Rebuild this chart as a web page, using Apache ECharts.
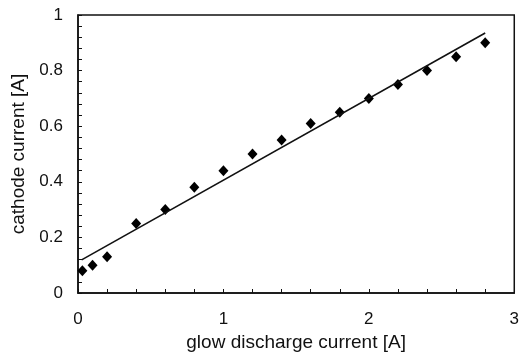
<!DOCTYPE html>
<html>
<head>
<meta charset="utf-8">
<script src="https://cdn.jsdelivr.net/npm/echarts@6/dist/echarts.min.js"></script>
<style>
  html, body { margin: 0; padding: 0; background: #fff; }
  #chart { width: 522px; height: 359px; }
</style>
</head>
<body>
<div id="chart"></div>
<script>
// measured points: glow discharge current [A] vs cathode current [A]
const glowCurrent = [0.03, 0.1, 0.2, 0.4, 0.6, 0.8, 1.0, 1.2, 1.4, 1.6, 1.8, 2.0, 2.2, 2.4, 2.6, 2.8];
const cathodeCurrent = [0.08, 0.1, 0.13, 0.25, 0.3, 0.38, 0.44, 0.5, 0.55, 0.61, 0.65, 0.7, 0.75, 0.8, 0.85, 0.9];

// fitted line endpoints
const fitX = [0.025, 2.8];
const fitY = [0.119, 0.935];

const xTicks = [0, 1, 2, 3];
const yTicks = [0, 0.2, 0.4, 0.6, 0.8, 1];

const font = "'Liberation Sans', Arial, sans-serif";
const ink = "#111";

const chart = echarts.init(document.getElementById("chart"));

chart.setOption({
  animation: false,
  grid: {
    left: 78,
    right: 6,
    top: 15,
    bottom: 66,
    show: true,
    borderColor: ink,
    borderWidth: 1.5,
  },
  xAxis: {
    type: "value",
    min: xTicks[0],
    max: xTicks[xTicks.length - 1],
    interval: 1,
    name: "glow discharge current [A]",
    nameLocation: "middle",
    nameGap: 35,
    nameTextStyle: { color: ink, fontFamily: font, fontSize: 19 },
    axisLine: { show: true, lineStyle: { color: ink, width: 1.5 } },
    axisTick: { show: true, inside: true, length: 4, lineStyle: { color: ink } },
    minorTick: { show: true, splitNumber: 5, length: 4, lineStyle: { color: ink } },
    axisLabel: { color: ink, fontFamily: font, fontSize: 17, margin: 18 },
    splitLine: { show: false },
  },
  yAxis: {
    type: "value",
    min: yTicks[0],
    max: yTicks[yTicks.length - 1],
    interval: 0.2,
    name: "cathode current [A]",
    nameLocation: "middle",
    nameGap: 43,
    nameTextStyle: { color: ink, fontFamily: font, fontSize: 19 },
    axisLine: { show: true, lineStyle: { color: ink, width: 1.5 } },
    axisTick: { show: true, inside: true, length: 4, lineStyle: { color: ink } },
    minorTick: { show: true, splitNumber: 5, length: 4, lineStyle: { color: ink } },
    axisLabel: { color: ink, fontFamily: font, fontSize: 17, margin: 15 },
    splitLine: { show: false },
  },
  series: [
    {
      type: "line",
      data: fitX.map((x, i) => [x, fitY[i]]),
      showSymbol: false,
      symbol: "none",
      lineStyle: { color: ink, width: 1.6 },
      silent: true,
    },
    {
      type: "scatter",
      data: glowCurrent.map((x, i) => [x, cathodeCurrent[i]]),
      symbol: "diamond",
      symbolSize: [10, 11],
      itemStyle: { color: "#000", opacity: 1 },
    },
  ],
});
</script>
</body>
</html>
